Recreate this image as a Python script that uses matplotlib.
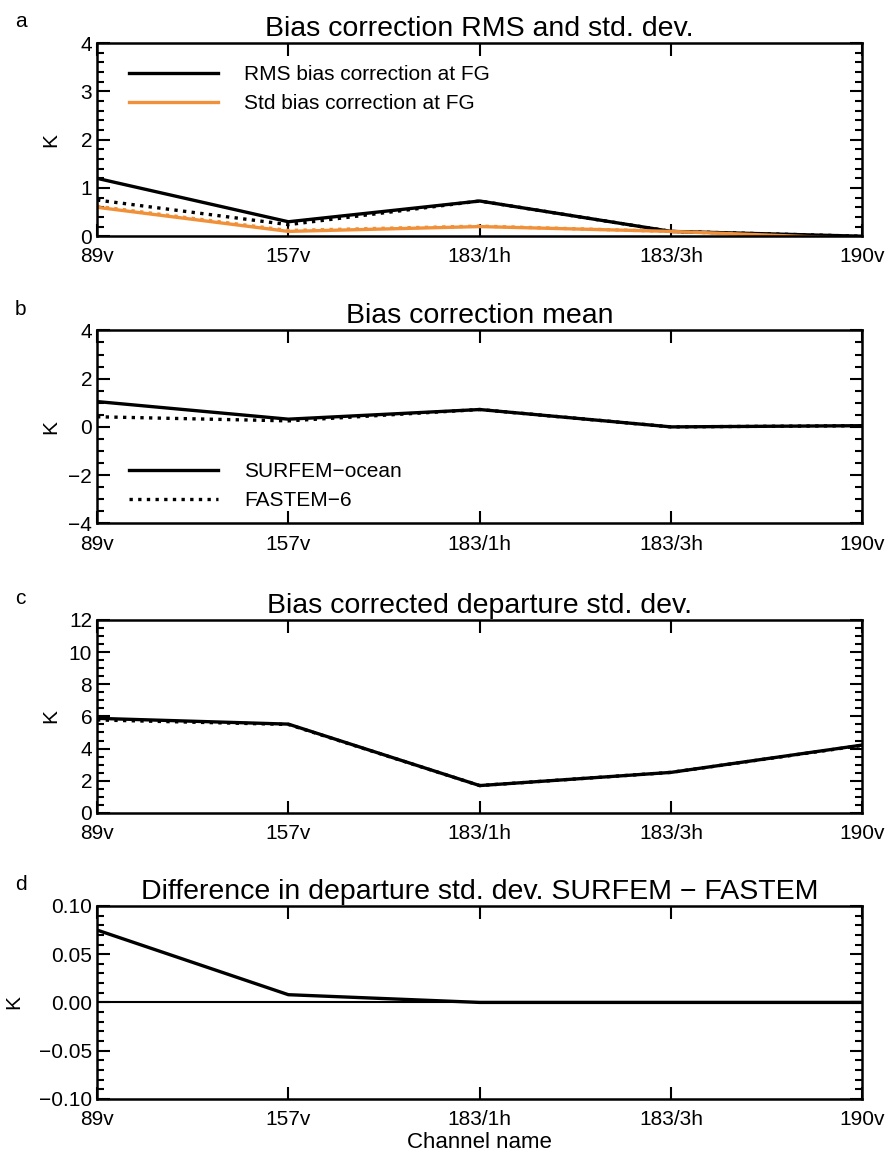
import matplotlib
matplotlib.use('Agg')
import matplotlib.pyplot as plt
from matplotlib.ticker import MultipleLocator

plt.rcParams['font.family'] = ['Liberation Sans', 'DejaVu Sans']

channels = ['89v', '157v', '183/1h', '183/3h', '190v']

# panel a: RMS and std of bias correction at FG
rms_surfem = [1.2, 0.3, 0.73, 0.1, 0.0]
rms_fastem = [0.75, 0.24, 0.73, 0.1, 0.0]
std_surfem = [0.6, 0.1, 0.2, 0.1, -0.05]
std_fastem = [0.62, 0.12, 0.21, 0.1, -0.05]

# panel b: bias correction mean
mean_surfem = [1.05, 0.32, 0.72, 0.0, 0.05]
mean_fastem = [0.42, 0.25, 0.72, 0.0, 0.05]

# panel c: bias corrected departure std. dev.
sd_surfem = [5.88, 5.52, 1.7, 2.52, 4.22]
sd_fastem = [5.78, 5.5, 1.7, 2.52, 4.2]

# panel d: difference SURFEM - FASTEM
sd_diff = [0.075, 0.008, 0.0, 0.0, 0.0]

orange = '#f0913a'
lw = 2.4
dots = (0, (1, 1.6))

fig = plt.figure(figsize=(8.9, 11.58), dpi=100)
left, width, height = 0.109, 0.860, 0.1667
bottoms = [0.796, 0.548, 0.298, 0.051]
axs = [fig.add_axes([left, b, width, height]) for b in bottoms]

x = list(range(len(channels)))


def style(ax, ylim, major, minor, title, letter, kx=-0.048):
    ax.set_xlim(0, len(channels) - 1)
    ax.set_ylim(*ylim)
    ax.set_xticks(x)
    ax.set_xticklabels(channels)
    ax.yaxis.set_major_locator(MultipleLocator(major))
    ax.yaxis.set_minor_locator(MultipleLocator(minor))
    ax.tick_params(axis='both', which='both', direction='in', top=True, right=True,
                   labelsize=15, width=1.5)
    ax.tick_params(axis='both', which='major', length=9)
    ax.tick_params(axis='y', which='minor', length=5)
    ax.tick_params(axis='x', which='major', pad=8)
    for s in ax.spines.values():
        s.set_linewidth(1.8)
    ax.set_title(title, fontsize=20.5, pad=5)
    ax.set_ylabel('K', fontsize=15)
    ax.yaxis.set_label_coords(kx, 0.5)
    ax.text(-0.107, 1.11, letter, transform=ax.transAxes, fontsize=15,
            ha='left', va='center')


ax = axs[0]
ax.plot(x, rms_fastem, color='black', lw=lw, ls=dots)
ax.plot(x, std_fastem, color=orange, lw=lw, ls=dots)
ax.plot(x, rms_surfem, color='black', lw=lw, label='RMS bias correction at FG')
ax.plot(x, std_surfem, color=orange, lw=lw, label='Std bias correction at FG')
style(ax, (0, 4), 1, 0.2, 'Bias correction RMS and std. dev.', 'a')
ax.legend(loc='upper left', frameon=False, fontsize=15, handlelength=4.3,
          handletextpad=1.25, bbox_to_anchor=(0.017, 0.985), labelspacing=0.5)

ax = axs[1]
ax.plot(x, mean_surfem, color='black', lw=lw, label='SURFEM\u2212ocean')
ax.plot(x, mean_fastem, color='black', lw=lw, ls=dots, label='FASTEM\u22126')
style(ax, (-4, 4), 2, 0.5, 'Bias correction mean', 'b')
ax.legend(loc='lower left', frameon=False, fontsize=15, handlelength=4.3,
          handletextpad=1.25, bbox_to_anchor=(0.017, -0.03), labelspacing=0.5)

ax = axs[2]
ax.plot(x, sd_fastem, color='black', lw=lw, ls=dots)
ax.plot(x, sd_surfem, color='black', lw=lw)
style(ax, (0, 12), 2, 0.5, 'Bias corrected departure std. dev.', 'c')

ax = axs[3]
ax.axhline(0, color='black', lw=1.5)
ax.plot(x, sd_diff, color='black', lw=lw)
style(ax, (-0.1, 0.1), 0.05, 0.01,
      'Difference in departure std. dev. SURFEM \u2212 FASTEM', 'd', kx=-0.097)
ax.yaxis.set_major_formatter(plt.FuncFormatter(lambda v, p: ('%.2f' % v).replace('-', '\u2212')))
ax.set_xlabel('Channel name', fontsize=16, labelpad=2)

fig.savefig('out.png', dpi=100)
